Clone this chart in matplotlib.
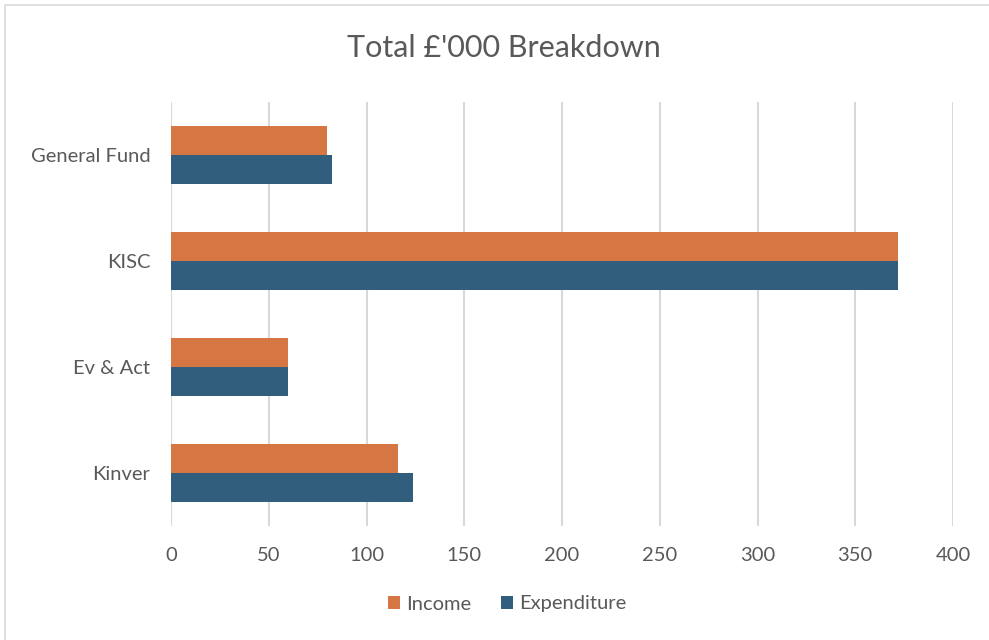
import matplotlib.pyplot as plt
import numpy as np
from matplotlib.patches import Rectangle

plt.rcParams["font.family"] = ["Lato", "DejaVu Sans"]

categories = ["General Fund", "KISC", "Ev & Act", "Kinver"]
income = [80, 372, 60, 116]
expenditure = [82.5, 372, 60, 124]

ORANGE = "#D67642"
BLUE = "#315E7D"
TEXT = "#595959"

fig = plt.figure(figsize=(9.89, 6.40), dpi=100, facecolor="white")
fig.patches.append(
    Rectangle((5 / 989, -0.1), 1.2, 1.1 - 5 / 640, transform=fig.transFigure,
              facecolor="none", edgecolor="#D9D9D9", linewidth=1.2)
)

ax = fig.add_axes([171 / 989, 1 - 526 / 640, 782 / 989, 424 / 640])
y = np.arange(len(categories))
h = 0.27
ax.barh(y - h / 2, income, height=h, color=ORANGE, label="Income", zorder=3)
ax.barh(y + h / 2, expenditure, height=h, color=BLUE, label="Expenditure", zorder=3)

ax.set_xlim(0, 400)
ax.set_ylim(len(categories) - 0.5, -0.5)
ax.set_xticks(range(0, 401, 50))
ax.set_yticks(y)
ax.set_yticklabels(categories)
ax.grid(axis="x", color="#D9D9D9", linewidth=1.5, zorder=0)
for s in ax.spines.values():
    s.set_visible(False)
ax.tick_params(axis="both", length=0, labelsize=14.5, colors=TEXT)
ax.tick_params(axis="x", pad=15)
ax.tick_params(axis="y", pad=15)

fig.text(0.509, 1 - 48 / 640, "Total £'000 Breakdown", ha="center", va="center",
         fontsize=22, color=TEXT)

ax.legend(loc="center", bbox_to_anchor=(507 / 989, 1 - 604 / 640),
          bbox_transform=fig.transFigure, ncol=2, frameon=False,
          fontsize=14.5, labelcolor=TEXT, handlelength=0.6, handleheight=0.6,
          handletextpad=0.3, columnspacing=1.5)

fig.savefig("out.png", dpi=100)
